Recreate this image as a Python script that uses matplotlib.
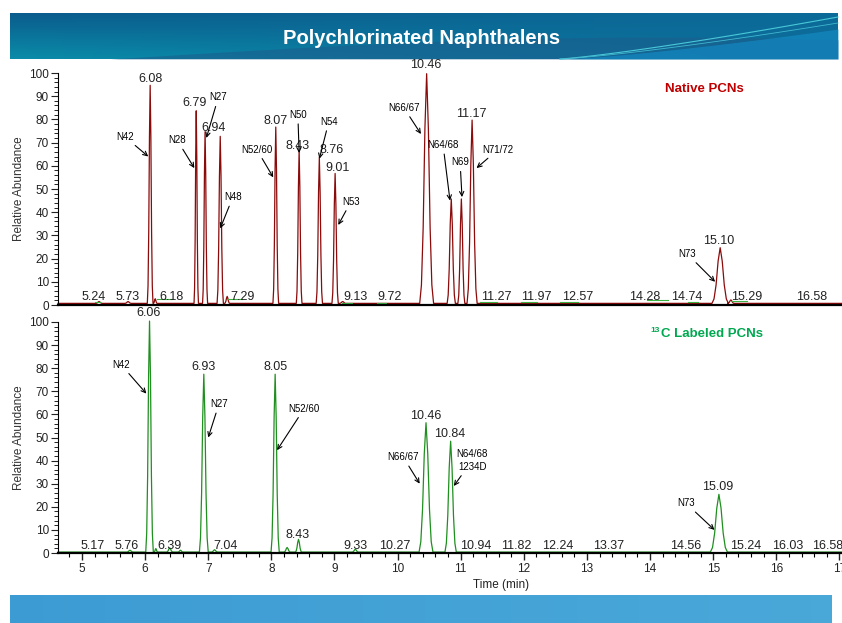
"""
plot.py - cromatograma PCNs (nativos y marcados 13C)
"""
import numpy as np
import matplotlib.pyplot as plt
from matplotlib.ticker import MultipleLocator

plt.rcParams['font.family'] = ['Liberation Sans', 'DejaVu Sans']

W, H = 842, 623

# ---- Datos: picos nativos (tiempo ret., altura, semiancho) ----
nat_rt = [5.27, 5.73, 6.08, 6.16, 6.81, 6.95, 7.19, 7.30, 8.07, 8.44,
          8.76, 9.01, 9.13, 10.46, 10.85, 11.01, 11.18, 15.11, 15.28]
nat_h = [0.8, 0.8, 94, 2.0, 83, 74, 72, 3.0, 76, 66,
         63, 56, 0.8, 99, 45, 45, 79, 24, 1.5]
nat_w = [0.05, 0.05, 0.045, 0.03, 0.035, 0.04, 0.05, 0.04, 0.045, 0.045,
         0.05, 0.05, 0.05, 0.11, 0.065, 0.055, 0.08, 0.13, 0.05]

# ---- Datos: picos marcados 13C ----
lab_rt = [5.76, 6.07, 6.17, 6.39, 6.56, 6.93, 7.10, 8.06, 8.25, 8.43,
          9.33, 10.45, 10.84, 15.09]
lab_h = [0.8, 100, 1.5, 1.8, 0.8, 77, 1.0, 77, 2.0, 5.5,
         1.2, 56, 48, 25]
lab_w = [0.05, 0.06, 0.03, 0.05, 0.04, 0.07, 0.05, 0.065, 0.05, 0.05,
         0.05, 0.11, 0.09, 0.135]

# etiquetas de tiempo de retencion (texto, x, y)
nat_lbl = ['6.08', '6.79', '6.94', '8.07', '8.43', '8.76', '9.01',
           '10.46', '11.17', '15.10']
nat_lbl_x = [6.08, 6.79, 7.09, 8.06, 8.42, 8.96, 9.05, 10.45, 11.16, 15.09]
nat_lbl_y = [97.5, 87, 76.5, 79.5, 68.5, 67, 59, 103.5, 82.5, 27.5]

nat_base_lbl = ['5.24', '5.73', '6.18', '7.29', '9.13', '9.72', '11.27',
                '11.97', '12.57', '14.28', '14.74', '15.29', '16.58']
nat_base_x = [5.18, 5.73, 6.42, 7.54, 9.33, 9.87, 11.56,
              12.20, 12.85, 13.92, 14.58, 15.53, 16.56]

lab_lbl = ['6.06', '6.93', '8.05', '8.43', '10.46', '10.84', '15.09']
lab_lbl_x = [6.06, 6.93, 8.06, 8.42, 10.44, 10.82, 15.07]
lab_lbl_y = [104, 80.5, 80.5, 7.8, 59.5, 51.5, 28.5]

lab_base_lbl = ['5.17', '5.76', '6.39', '7.04', '9.33', '10.27', '10.94',
                '11.82', '12.24', '13.37', '14.56', '15.24', '16.03', '16.58']
lab_base_x = [5.17, 5.70, 6.39, 7.28, 9.33, 9.96, 11.24,
              11.88, 12.54, 13.35, 14.56, 15.52, 16.18, 16.82]

# congéneres: texto, punta de flecha, posición del texto
nat_cong = ['N42', 'N28', 'N27', 'N48', 'N52/60', 'N50', 'N54', 'N53',
            'N66/67', 'N64/68', 'N69', 'N71/72', 'N73']
nat_tip = [(6.05, 64), (6.78, 59), (6.97, 72), (7.19, 33), (8.03, 55),
           (8.44, 65.5), (8.76, 63), (9.06, 34.5), (10.37, 73.7),
           (10.83, 45), (11.02, 46.5), (11.25, 59), (15.03, 10)]
nat_txt = [(5.68, 72.5), (6.51, 71), (7.16, 89.5), (7.39, 46.5), (7.77, 67),
           (8.42, 82), (8.91, 79), (9.26, 44.5), (10.10, 85),
           (10.72, 69), (10.99, 61.5), (11.59, 67), (14.59, 22)]

lab_cong = ['N42', 'N27', 'N52/60', 'N66/67', 'N64/68\n1234D', 'N73']
lab_tip = [(6.02, 69), (7.00, 50), (8.09, 44.5), (10.35, 30), (10.89, 29),
           (15.02, 10)]
lab_txt = [(5.62, 81.5), (7.17, 64.5), (8.52, 62.5), (10.09, 41.5),
           (11.18, 40), (14.57, 21.5)]

# segmentos verdes de integración (inicio, fin, nivel)
integ = [(5.21, 5.29, 1.5), (6.19, 6.43, 2.6), (7.30, 7.54, 2.6),
         (9.12, 9.28, 1.0), (9.68, 9.82, 1.0), (11.31, 11.58, 1.5),
         (11.96, 12.21, 1.5), (12.57, 12.85, 1.5), (13.95, 14.29, 2.0),
         (14.60, 14.76, 1.5), (15.30, 15.54, 1.8)]

# forma de pico (fija)
PERFIL_X = [-1, -0.75, -0.5, -0.25, 0, 0.25, 0.5, 0.75, 1]
PERFIL_Y = [0, 0.08, 0.33, 0.76, 1, 0.76, 0.33, 0.08, 0]
XMIN, XMAX = 4.62, 17.04


def traza(rt, h, w, base):
    xs = [XMIN]; ys = [base]
    for t, a, s in sorted(zip(rt, h, w)):
        for o, f in zip(PERFIL_X, PERFIL_Y):
            xs.append(t + o*s); ys.append(base + f*a)
    xs.append(XMAX + 0.1); ys.append(base)
    return xs, ys


fig = plt.figure(figsize=(W/100, H/100), dpi=100)

# ---- fondo: banda de título y pie ----
bg = fig.add_axes([0, 0, 1, 1], zorder=-1)
bg.set_xlim(0, W); bg.set_ylim(H, 0); bg.axis('off')
gx, gy = np.meshgrid(np.linspace(0, 1, 400), np.linspace(0, 1, 60))
top = np.array([0.04, 0.36, 0.55]); bot = np.array([0.04, 0.55, 0.66])
mid = np.array([0.05, 0.42, 0.60])
img = (top[None, None, :]*(1-gy[..., None]) + bot[None, None, :]*gy[..., None])
img = img*(1-gx[..., None]) + mid[None, None, :]*gx[..., None]
bg.imshow(img, extent=[10, 838, 59, 13], aspect='auto', zorder=0)
cx = np.linspace(110, 838, 200)
cy = 59 - 22*np.sin(np.pi*(cx-110)/1100)
bg.fill_between(cx, cy, 59, color='#1c5c8c', alpha=0.55, lw=0, zorder=1)
cx2 = np.linspace(560, 838, 100)
bg.fill_between(cx2, 59 - 30*((cx2-560)/278)**1.3, 59, color='#1389c2',
                alpha=0.7, lw=0, zorder=2)
bg.plot(cx2, 59 - 42*((cx2-560)/278)**1.2, color='#48c8d8', lw=0.8, zorder=3)
bg.plot(cx2, 59 - 36*((cx2-560)/278)**1.25, color='#3fb8d0', lw=0.6, zorder=3)
fx, fy = np.meshgrid(np.linspace(0, 1, 200), np.linspace(0, 1, 2))
c1 = np.array([0.24, 0.61, 0.83]); c2 = np.array([0.29, 0.66, 0.85])
fimg = c1[None, None, :]*(1-fx[..., None]) + c2[None, None, :]*fx[..., None]
bg.imshow(fimg, extent=[10, 832, 623, 595], aspect='auto', zorder=0)
bg.set_xlim(0, W); bg.set_ylim(H, 0)

fig.text(422/W, 1-39/H, 'Polychlorinated Naphthalens', color='white',
         fontsize=14.5, fontweight='bold', ha='center', va='center')

# ---- paneles ----
ax1 = fig.add_axes([58/W, (H-305)/H, (W-58)/W, 232/H])
ax2 = fig.add_axes([58/W, (H-553)/H, (W-58)/W, 231/H])

for ax in (ax1, ax2):
    ax.set_xlim(XMIN, XMAX); ax.set_ylim(0, 100)
    for s in ('top', 'right'):
        ax.spines[s].set_visible(False)
    ax.spines['bottom'].set_linewidth(1.6)
    ax.spines['left'].set_linewidth(0.8)
    ax.yaxis.set_major_locator(MultipleLocator(10))
    ax.yaxis.set_minor_locator(MultipleLocator(2))
    ax.xaxis.set_major_locator(MultipleLocator(1))
    ax.xaxis.set_minor_locator(MultipleLocator(0.2))
    ax.tick_params(axis='y', which='major', length=5, width=0.8, pad=1.5,
                   labelsize=8.5, colors='#222222')
    ax.tick_params(axis='y', which='minor', length=3, width=0.6)
    ax.tick_params(axis='x', which='major', length=5, width=1.0, pad=2,
                   labelsize=8.5, colors='#222222')
    ax.tick_params(axis='x', which='minor', length=3, width=0.8)
    ax.patch.set_alpha(0)
    ax.set_ylabel('Relative Abundance', fontsize=8.5, labelpad=3,
                  color='#333333')

ax1.tick_params(axis='x', which='both', bottom=False, labelbottom=False)

xs, ys = traza(nat_rt, nat_h, nat_w, 0.7)
ax1.plot(xs, ys, color='#8b0a0a', lw=0.9, clip_on=False)
for a, b, lv in integ:
    ax1.plot([a, b], [lv, lv], color='#3cb043', lw=0.8)

xs, ys = traza(lab_rt, lab_h, lab_w, 0.4)
ax2.plot(xs, ys, color='#1f8f1f', lw=0.9, clip_on=False)

lbl_kw = dict(ha='center', va='center', fontsize=9, color='#222222')
for s, x, y in zip(nat_lbl, nat_lbl_x, nat_lbl_y):
    ax1.text(x, y, s, **lbl_kw)
for s, x in zip(nat_base_lbl, nat_base_x):
    ax1.text(x, 3.6, s, **lbl_kw)
for s, x, y in zip(lab_lbl, lab_lbl_x, lab_lbl_y):
    ax2.text(x, y, s, **lbl_kw)
for s, x in zip(lab_base_lbl, lab_base_x):
    ax2.text(x, 3.2, s, clip_on=False, **lbl_kw)

flecha = dict(arrowstyle='->,head_length=0.45,head_width=0.22', lw=0.8,
              color='black', shrinkA=1, shrinkB=0)
for s, p, q in zip(nat_cong, nat_tip, nat_txt):
    ax1.annotate(s, xy=p, xytext=q, ha='center', va='center', fontsize=7,
                 arrowprops=flecha)
for s, p, q in zip(lab_cong, lab_tip, lab_txt):
    ax2.annotate(s, xy=p, xytext=q, ha='center', va='center', fontsize=7,
                 linespacing=1.3, arrowprops=flecha)

fig.text(704/W, 1-89/H, 'Native PCNs', color='#c00000', fontsize=9.5,
         fontweight='bold', ha='center', va='center')
fig.text(661/W, 1-334/H, 'C Labeled PCNs', color='#00a850', fontsize=9.5,
         fontweight='bold', ha='left', va='center')
fig.text(660/W, 1-331/H, '13', color='#00a850', fontsize=6,
         fontweight='bold', ha='right', va='center')
fig.text(501/W, 1-585/H, 'Time (min)', fontsize=8.5, color='#222222',
         ha='center', va='center')

fig.savefig('out.png', dpi=100)
